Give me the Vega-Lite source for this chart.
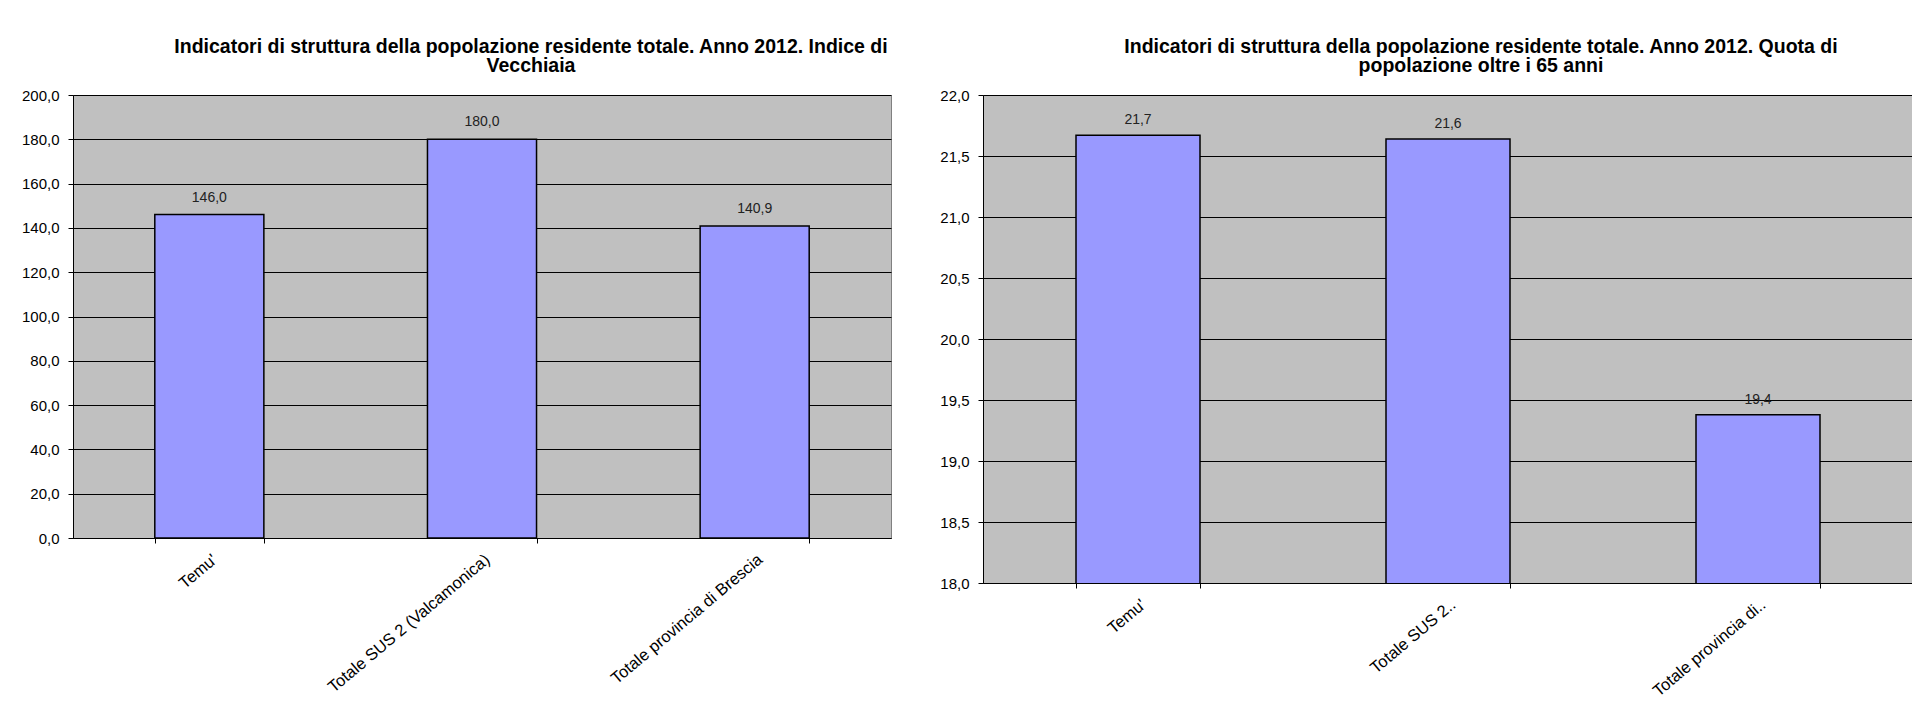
{
  "$schema": "https://vega.github.io/schema/vega-lite/v6.json",
  "background": "white",
  "padding": {"left": 20, "top": 36, "right": 0, "bottom": 0},
  "config": {
    "locale": {"number": {"decimal": ",", "thousands": ".", "grouping": [3], "currency": ["", " €"]}},
    "font": "Liberation Sans",
    "view": {"fill": "#C0C0C0", "stroke": "#808080", "strokeWidth": 1},
    "axis": {"labelFont": "Liberation Sans", "labelFontSize": 15, "labelColor": "#000", "domainColor": "#000", "tickColor": "#000", "gridColor": "#000", "gridOpacity": 1, "tickSize": 5, "labelLimit": 0},
    "title": {"font": "Liberation Sans", "fontSize": 19.5, "fontWeight": "bold", "color": "#000", "anchor": "middle", "lineHeight": 19.5, "offset": 11.5},
    "concat": {"spacing": 47}
  },
  "align": "none",
  "hconcat": [
    {
      "title": {"text": ["Indicatori di struttura della popolazione residente totale. Anno 2012. Indice di", "Vecchiaia"], "dx": 49},
      "width": 818,
      "height": 443,
      "data": {"values": [
        {"area": "Temu'", "value": 146.0},
        {"area": "Totale SUS 2 (Valcamonica)", "value": 180.0},
        {"area": "Totale provincia di Brescia", "value": 140.9}
      ]},
      "encoding": {
        "x": {"field": "area", "type": "nominal", "sort": null, "scale": {"paddingInner": 0.6, "paddingOuter": 0.3},
              "axis": {"title": null, "labelAngle": -40, "labelFontSize": 16.5, "labelAlign": "right", "labelBaseline": "top", "tickBand": "extent", "labelPadding": 8, "grid": false}},
        "y": {"field": "value", "type": "quantitative", "scale": {"domain": [0, 200], "nice": false},
              "axis": {"title": null, "values": [0, 20, 40, 60, 80, 100, 120, 140, 160, 180, 200], "format": ".1f", "grid": true, "labelPadding": 9}}
      },
      "layer": [
        {"mark": {"type": "bar", "fill": "#9999FF", "stroke": "#000", "strokeWidth": 1.5}},
        {"mark": {"type": "text", "dy": -17, "fontSize": 14, "color": "#222", "font": "Liberation Sans"}, "encoding": {"text": {"field": "value", "type": "quantitative", "format": ".1f"}}}
      ]
    },
    {
      "title": {"text": ["Indicatori di struttura della popolazione residente totale. Anno 2012. Quota di", "popolazione oltre i 65 anni"], "dx": 33},
      "width": 930,
      "height": 488,
      "data": {"values": [
        {"area": "Temu'", "value": 21.67},
        {"area": "Totale SUS 2..", "value": 21.64},
        {"area": "Totale provincia di..", "value": 19.38}
      ]},
      "encoding": {
        "x": {"field": "area", "type": "nominal", "sort": null, "scale": {"paddingInner": 0.6, "paddingOuter": 0.3},
              "axis": {"title": null, "labelAngle": -40, "labelFontSize": 16.5, "labelAlign": "right", "labelBaseline": "top", "tickBand": "extent", "labelPadding": 8, "grid": false}},
        "y": {"field": "value", "type": "quantitative", "scale": {"domain": [18, 22], "nice": false, "zero": false},
              "axis": {"title": null, "values": [18, 18.5, 19, 19.5, 20, 20.5, 21, 21.5, 22], "format": ".1f", "grid": true, "labelPadding": 9}}
      },
      "layer": [
        {"mark": {"type": "bar", "fill": "#9999FF", "stroke": "#000", "strokeWidth": 1.5, "clip": true}},
        {"mark": {"type": "text", "dy": -15, "fontSize": 14, "color": "#222", "font": "Liberation Sans"}, "encoding": {"text": {"field": "value", "type": "quantitative", "format": ".1f"}}}
      ]
    }
  ]
}
